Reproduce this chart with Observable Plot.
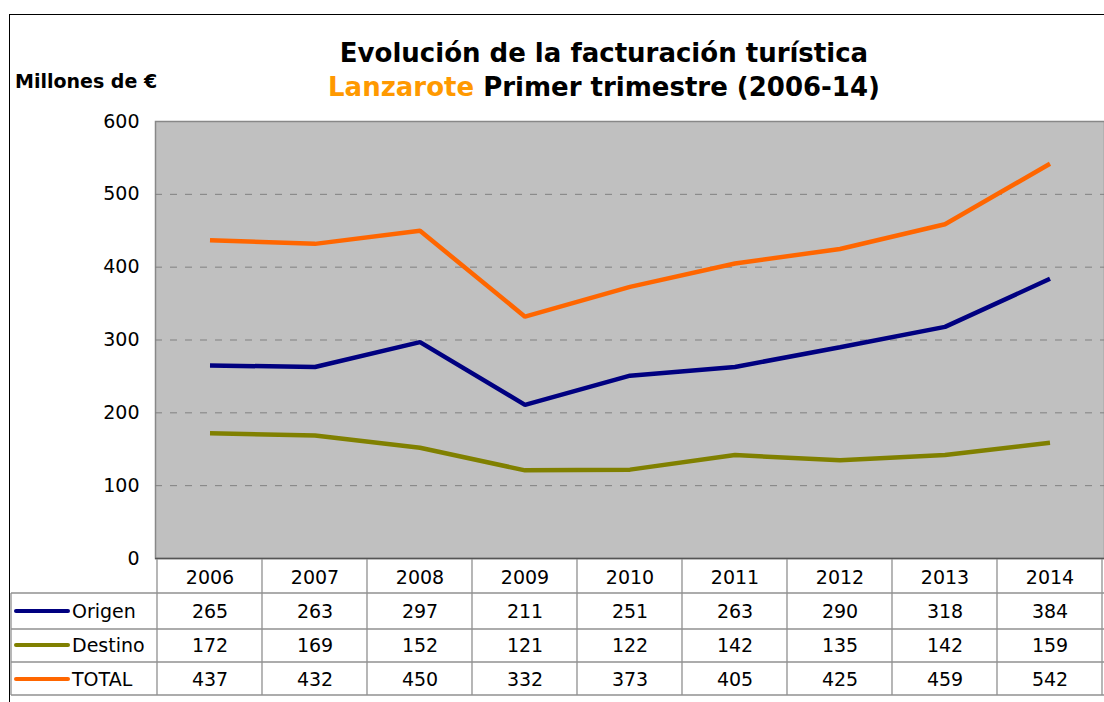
<!DOCTYPE html>
<html><head><meta charset="utf-8">
<script src="https://cdn.jsdelivr.net/npm/d3@7"></script>
<script src="https://cdn.jsdelivr.net/npm/@observablehq/plot@0.6"></script>
<style>
body{margin:0;background:#fff;font-family:"DejaVu Sans",Verdana,sans-serif;}
#wrap{position:relative;width:1104px;height:702px;overflow:hidden;background:#fff;}
#border{position:absolute;left:9px;top:14px;width:1200px;height:800px;border:1px solid #000;}
#chart{position:absolute;left:0;top:0;}
.t{position:absolute;font-weight:bold;white-space:nowrap;color:#000;}
</style></head><body>
<div id="wrap">
<div id="border"></div>
<div id="chart"></div>
<div class="t" style="left:0;width:1208px;text-align:center;top:38px;font-size:26px;line-height:30px;">Evolución de la facturación turística</div>
<div class="t" style="left:0;width:1208px;text-align:center;top:72px;font-size:26px;line-height:30px;"><span style="color:#FF9900">Lanzarote</span> Primer trimestre (2006-14)</div>
<div class="t" style="left:15px;top:70px;font-size:19px;line-height:22px;">Millones de €</div>
</div>
<script>
const years = ["2006","2007","2008","2009","2010","2011","2012","2013","2014"];
const origen = [265,263,297,211,251,263,290,318,384];
const destino = [172,169,152,121,122,142,135,142,159];
const total = [437,432,450,332,373,405,425,459,542];
const seriesNames = ["Origen","Destino","TOTAL"];
const seriesColors = ["#000080","#808000","#FF6600"];
const yTicks = [0,100,200,300,400,500,600];

const seriesValues = [origen, destino, total];
const rows = [];
seriesNames.forEach((s,k)=>years.forEach((yr,i)=>rows.push({series:s, year:yr, value:seriesValues[k][i]})));

const rowDy = [53, 87, 121];

const chart = Plot.plot({
  width: 1104,
  height: 702,
  marginTop: 121,
  marginBottom: 144,
  marginLeft: 155,
  marginRight: 0,
  style: {fontFamily: '"DejaVu Sans", Verdana, sans-serif', fontSize: "19px", background: "transparent", color: "#000", overflow: "visible"},
  x: {type: "band", domain: years, padding: 0, axis: null},
  y: {domain: [0, 600], ticks: yTicks, tickSize: 0, tickPadding: 16, line: true, label: null},
  color: {domain: seriesNames, range: seriesColors},
  marks: [
    Plot.frame({fill: "#c0c0c0", stroke: "#888888", strokeWidth: 1.5}),
    Plot.ruleY(yTicks.filter(v => v > 0 && v < 600), {stroke: "#808080", strokeDasharray: "7,8", strokeWidth: 1}),
    Plot.ruleY([0], {stroke: "#555", strokeWidth: 1.5}),
    Plot.lineY(rows, {x: "year", y: "value", z: "series", stroke: "series", strokeWidth: 4.5, strokeLinejoin: "miter", strokeLinecap: "butt"}),
    Plot.text(years, {x: d => d, text: d => d, frameAnchor: "bottom", lineAnchor: "middle", dy: 19, fontSize: 19, fill: "#000"}),
    ...seriesNames.map((s,k) => Plot.text(rows.filter(r => r.series === s), {x: "year", text: d => String(d.value), frameAnchor: "bottom", lineAnchor: "middle", dy: rowDy[k], fontSize: 19, fill: "#000"}))
  ]
});

document.getElementById("chart").appendChild(chart);

// table grid and legend keys, positioned with Plot's own scales
const xs = chart.scale("x"), ys = chart.scale("y");
const bw = xs.bandwidth;
const y0 = ys.apply(0);
const svg = d3.select(chart);
const g = svg.append("g");
const lineColor = "#909090";
// vertical dividers
const edges = years.map(yr => xs.apply(yr)).concat([xs.apply(years[years.length-1]) + bw]);
edges.forEach(x => g.append("line").attr("x1", x).attr("x2", x).attr("y1", y0 + 1).attr("y2", y0 + 137).attr("stroke", lineColor).attr("stroke-width", 1.3));
// horizontal lines
[35, 71, 104, 137].forEach(dy => g.append("line").attr("x1", 11).attr("x2", 1104).attr("y1", y0 + dy).attr("y2", y0 + dy).attr("stroke", lineColor).attr("stroke-width", 1.3));
// left column edge
g.append("line").attr("x1", 11).attr("x2", 11).attr("y1", y0 + 35).attr("y2", y0 + 137).attr("stroke", lineColor).attr("stroke-width", 1.3);
// legend keys
seriesNames.forEach((s, k) => {
  const yy = y0 + rowDy[k];
  g.append("line").attr("x1", 16).attr("x2", 68).attr("y1", yy).attr("y2", yy).attr("stroke", seriesColors[k]).attr("stroke-width", 4).attr("stroke-linecap", "round");
  g.append("text").attr("x", 72).attr("y", yy).attr("dy", "0.35em").attr("text-anchor", "start").attr("font-size", 19).attr("fill", "#000").text(s);
});
</script>
</body></html>
